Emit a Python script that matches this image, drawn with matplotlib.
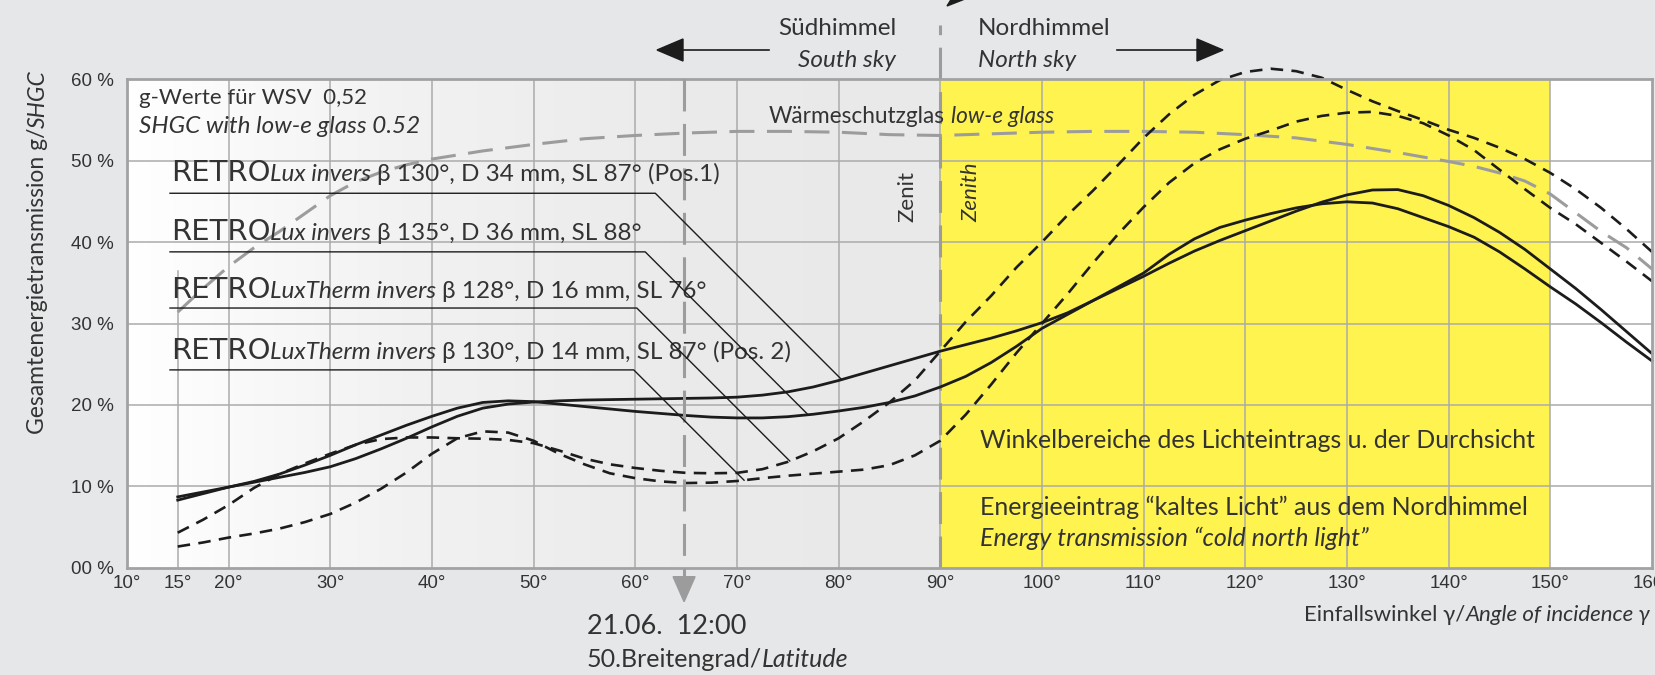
import numpy as np
import matplotlib
matplotlib.use("Agg")
import matplotlib.pyplot as plt
from matplotlib.transforms import IdentityTransform
from matplotlib.lines import Line2D
from matplotlib.patches import Polygon
from matplotlib.colors import LinearSegmentedColormap

plt.rcParams["lines.scale_dashes"] = False

# ---------------------------------------------------------------- data
angle = [15, 17.5, 20, 22.5, 25, 27.5, 30, 32.5, 35, 37.5, 40, 42.5, 45, 47.5,
         50, 52.5, 55, 57.5, 60, 62.5, 65, 67.5, 70, 72.5, 75, 77.5, 80, 82.5,
         85, 87.5, 90, 92.5, 95, 97.5, 100, 102.5, 105, 107.5, 110, 112.5, 115,
         117.5, 120, 122.5, 125, 127.5, 130, 132.5, 135, 137.5, 140, 142.5, 145,
         147.5, 150, 152.5, 155, 157.5, 160]

# RETROLux invers 130°, D 34 mm (Pos.1)
lux130 = [8.3, 9.1, 9.9, 10.5, 11.1, 11.7, 12.4, 13.4, 14.6, 15.9, 17.3, 18.6,
          19.6, 20.1, 20.35, 20.5, 20.6, 20.65, 20.7, 20.75, 20.8, 20.85, 20.95,
          21.2, 21.6, 22.2, 23.0, 23.9, 24.8, 25.7, 26.6, 27.4, 28.2, 29.1, 30.1,
          31.3, 32.8, 34.3, 35.8, 37.4, 38.9, 40.2, 41.4, 42.6, 43.8, 44.9, 45.8,
          46.4, 46.45, 45.7, 44.5, 43.0, 41.2, 39.1, 36.7, 34.3, 31.7, 29.0, 26.3]

# RETROLux invers 135°, D 36 mm
lux135 = [8.7, 9.3, 9.9, 10.6, 11.5, 12.6, 13.8, 15.1, 16.3, 17.5, 18.6, 19.6,
          20.3, 20.5, 20.4, 20.1, 19.8, 19.5, 19.2, 18.95, 18.7, 18.5, 18.4, 18.4,
          18.55, 18.85, 19.25, 19.7, 20.3, 21.1, 22.2, 23.5, 25.2, 27.2, 29.4,
          31.1, 32.8, 34.5, 36.2, 38.5, 40.4, 41.8, 42.7, 43.5, 44.2, 44.7, 44.95,
          44.8, 44.1, 43.0, 41.9, 40.6, 38.8, 36.7, 34.5, 32.4, 30.1, 27.7, 25.4]

# RETROLuxTherm invers 128°, D 16 mm
therm128 = [4.3, 5.9, 7.7, 9.8, 11.5, 12.8, 14.0, 15.1, 15.8, 16.0, 16.0, 15.9,
            15.85, 15.7, 15.3, 14.4, 13.4, 12.7, 12.25, 11.9, 11.65, 11.6, 11.65,
            12.1, 13.0, 14.3, 15.9, 18.0, 20.3, 23.0, 26.6, 30.2, 33.4, 36.9, 40.0,
            43.3, 46.3, 49.5, 52.8, 55.7, 58.1, 59.9, 60.9, 61.3, 61.0, 60.2, 58.7,
            57.3, 56.1, 55.0, 53.8, 52.8, 51.6, 50.2, 48.5, 46.5, 44.2, 41.6, 38.8]

# RETROLuxTherm invers 130°, D 14 mm (Pos. 2)
therm130 = [2.6, 3.1, 3.7, 4.2, 4.8, 5.6, 6.6, 8.0, 9.7, 11.7, 14.0, 15.9, 16.75,
            16.6, 15.6, 14.0, 12.7, 11.6, 11.0, 10.6, 10.4, 10.45, 10.65, 11.0,
            11.3, 11.55, 11.8, 12.05, 12.6, 13.8, 15.6, 18.8, 22.5, 26.4, 30.0,
            33.6, 37.4, 41.0, 44.3, 47.3, 49.7, 51.4, 52.7, 53.7, 54.8, 55.5, 55.9,
            56.0, 55.5, 54.6, 53.1, 51.3, 48.9, 46.5, 44.2, 42.2, 39.9, 37.6, 35.2]

# low-e glass reference
glass_angle = [15, 17.5, 20, 22.5, 25, 27.5, 30, 32.5, 35, 37.5, 40, 45, 50, 55,
               60, 65, 70, 75, 80, 85, 90, 95, 100, 105, 110, 115, 120, 125, 130,
               135, 140, 142.5, 145, 147.5, 150, 152.5, 155, 157.5, 160]
glass = [31.4, 34.3, 37.0, 39.3, 41.3, 43.5, 45.7, 47.4, 48.6, 49.5, 50.2, 51.2,
         52.0, 52.7, 53.1, 53.4, 53.6, 53.6, 53.5, 53.2, 53.1, 53.3, 53.5, 53.6,
         53.6, 53.5, 53.2, 52.8, 52.0, 51.0, 49.9, 49.3, 48.5, 47.5, 45.9, 43.6,
         41.3, 39.3, 36.7]

x_ticks = [10, 15, 20, 30, 40, 50, 60, 70, 80, 90, 100, 110, 120, 130, 140, 150, 160]
y_ticks = [0, 10, 20, 30, 40, 50, 60]
y_ticklabels = ["00 %", "10 %", "20 %", "30 %", "40 %", "50 %", "60 %"]

labels = [
    ("Lux invers ", "β 130°, D 34 mm, SL 87° (Pos.1)"),
    ("Lux invers ", "β 135°, D 36 mm, SL 88°"),
    ("LuxTherm invers ", "β 128°, D 16 mm, SL 76°"),
    ("LuxTherm invers ", "β 130°, D 14 mm, SL 87° (Pos. 2)"),
]
label_curves = [lux130, lux135, therm128, therm130]
label_hit_angle = [80.3, 77.0, 75.2, 70.7]
label_rule_pct = [46.0, 38.8, 31.9, 24.3]

SUN_ANGLE = 64.8
ZENITH = 90
NORTH_END = 150

# ---------------------------------------------------------------- style
W, H = 1656, 675
FIG_BG = "#e6e7e8"
YELLOW = "#fff34f"
GRID = "#ababab"
TXT = "#333333"
INK = "#1c1c1c"
GREYLINE = "#9c9c9c"
SANS = ["Lato", "DejaVu Sans"]
TICKFONT = ["Liberation Sans", "DejaVu Sans"]
WIDE = ["DejaVu Sans"]

fig = plt.figure(figsize=(W / 100, H / 100), dpi=100, facecolor=FIG_BG)
L, R, T, B = 126.9, 1652.0, 79.3, 567.7
ax = fig.add_axes([L / W, 1 - B / H, (R - L) / W, (B - T) / H])
ax.set_facecolor("white")

# soft grey shading of the south sky half
sky = LinearSegmentedColormap.from_list("sky", ["#ffffff", "#f2f2f2", "#ebebeb", "#e9e9ea"])
ax.imshow(np.linspace(0, 1, 256)[None, :], extent=(10, ZENITH, 0, 60), aspect="auto",
          cmap=sky, zorder=0, interpolation="bicubic")
ax.axvspan(ZENITH, NORTH_END, color=YELLOW, lw=0, zorder=0.2)
ax.set_xlim(10, 160)
ax.set_ylim(0, 60)

for v in x_ticks[2:-1]:
    ax.axvline(v, color=GRID, lw=1.1, zorder=1)
for v in y_ticks[1:-1]:
    ax.axhline(v, color=GRID, lw=1.1, zorder=1)
ax.plot([15, 15], [0, 36.4], color=GRID, lw=1.1, zorder=1)

for s in ax.spines.values():
    s.set_color("#a2a2a2")
    s.set_linewidth(2.0)
    s.set_zorder(6)

ax.set_xticks(x_ticks)
ax.set_xticklabels([f"{v}°" for v in x_ticks])
ax.set_yticks(y_ticks)
ax.set_yticklabels(y_ticklabels)
ax.tick_params(axis="both", length=0, labelsize=13.5, labelcolor=TXT)
ax.tick_params(axis="x", pad=5)
ax.tick_params(axis="y", pad=9.5)
for lab in ax.get_xticklabels() + ax.get_yticklabels():
    lab.set_fontfamily(TICKFONT)

# curves
ax.plot(glass_angle, glass, color=GREYLINE, lw=2.2, dashes=(18, 9), zorder=2,
        dash_capstyle="butt", clip_on=False)
for yv in (lux130, lux135):
    ax.plot(angle, yv, color=INK, lw=2.0, zorder=4, clip_on=False)
for yv in (therm128, therm130):
    ax.plot(angle, yv, color=INK, lw=1.9, dashes=(9, 6), zorder=4,
            dash_capstyle="butt", clip_on=False)

# zenith and sun position markers
ax.plot([ZENITH, ZENITH], [0, 66.7], color=GREYLINE, lw=2.2, dashes=(23, 9),
        zorder=3, clip_on=False)
fig.canvas.draw()
renderer = fig.canvas.get_renderer()
sx, sy_bot = ax.transData.transform((SUN_ANGLE, 0))
_, sy_top = ax.transData.transform((SUN_ANGLE, 60))
fig.add_artist(Line2D([sx, sx], [sy_top, sy_bot - 9], color=GREYLINE, lw=2.2,
                      dashes=(23, 9), transform=IdentityTransform()))
fig.add_artist(Polygon([(sx - 11, sy_bot - 9), (sx + 11, sy_bot - 9), (sx, sy_bot - 34)],
                       closed=True, color=GREYLINE, transform=IdentityTransform()))


# ---------------------------------------------------------------- text helpers
def P(x, y):
    return x, H - y


def width_of(s, size, style, fam):
    t = fig.text(0, 0, s, fontsize=size, style=style, family=fam,
                 transform=IdentityTransform())
    w = t.get_window_extent(renderer).width
    t.remove()
    return w


def runs(parts, x, y, rot=0, color=TXT, align="left"):
    """Draw consecutive text pieces with mixed styles along one baseline."""
    pieces = []
    total = 0.0
    for s, style, fam, size in parts:
        sp = width_of("x x", size, style, fam) - width_of("xx", size, style, fam)
        lead = len(s) - len(s.lstrip(" "))
        trail = len(s) - len(s.rstrip(" "))
        core = s.strip(" ")
        w = width_of(core, size, style, fam)
        pieces.append((core, style, fam, size, lead * sp, w, trail * sp))
        total += lead * sp + w + trail * sp
    pos = -total if align == "right" else 0.0
    x0, y0 = P(x, y)
    for core, style, fam, size, lead, w, trail in pieces:
        pos += lead
        px, py = (x0 + pos, y0) if rot == 0 else (x0, y0 + pos)
        fig.text(px, py, core, transform=IdentityTransform(), fontsize=size, style=style,
                 family=fam, color=color, ha="left", va="baseline",
                 rotation=rot, rotation_mode="anchor")
        pos += w + trail


def put(s, x, y, size, style="normal", ha="left", rot=0, fam=SANS, color=TXT):
    fig.text(*P(x, y), s, transform=IdentityTransform(), fontsize=size, style=style,
             family=fam, color=color, ha=ha, va="baseline", rotation=rot,
             rotation_mode="anchor")


# y axis title
runs([("Gesamtenergietransmission g/", "normal", SANS, 16.5),
      ("SHGC", "italic", SANS, 16.5)], 44.5, 434, rot=90)

# sky direction heading
put("Südhimmel", 896, 35, 17.5, ha="right")
put("South sky", 896, 66.7, 17.5, style="italic", ha="right")
put("Nordhimmel", 978, 35, 17.5)
put("North sky", 978, 66.7, 17.5, style="italic")
for x_tail, x_base, x_tip in ((769, 683, 657), (1117, 1197, 1223)):
    fig.add_artist(Line2D([x_tail, x_base], [H - 50, H - 50], color=INK, lw=1.2,
                          transform=IdentityTransform()))
    fig.add_artist(Polygon([P(x_base, 39), P(x_base, 61), P(x_tip, 50)], closed=True,
                           color=INK, transform=IdentityTransform()))
fig.add_artist(Polygon([P(947, 6), P(970, -3), P(957, -10)], closed=True, color=INK,
                       transform=IdentityTransform()))

# plot area notes
put("g-Werte für WSV  0,52", 139, 104, 16)
put("SHGC with low-e glass 0.52", 139, 133, 17.5, style="italic")
runs([("Wärmeschutzglas ", "normal", SANS, 16.3), ("low-e glass", "italic", SANS, 16.3)],
     769, 122.7)
put("Zenit", 913.6, 222, 16, rot=90)
put("Zenith", 977.5, 222, 16, style="italic", rot=90)
put("Winkelbereiche des Lichteintrags u. der Durchsicht", 980, 448.3, 17.8)
put("Energieeintrag “kaltes Licht” aus dem Nordhimmel", 980, 515, 18)
put("Energy transmission “cold north light”", 980, 546, 18, style="italic")

# below the axis
put("21.06.  12:00", 587, 634, 19.5)
runs([("50.Breitengrad/", "normal", SANS, 18), ("Latitude", "italic", SANS, 18)], 587, 666.7)
runs([("Einfallswinkel γ/", "normal", SANS, 16), ("Angle of incidence γ", "italic", SANS, 16)],
     1650, 621, align="right")

# curve labels with leader lines
label_baselines = [181, 240, 297.7, 359.3]
for (mid, tail), curve, hit, rule, base in zip(labels, label_curves, label_hit_angle,
                                                label_rule_pct, label_baselines):
    runs([("RETRO", "normal", WIDE, 21), (mid, "italic", SANS, 17.5),
          (tail, "normal", SANS, 17.5)], 171, base)
    ex, ey = ax.transData.transform((hit, np.interp(hit, angle, curve)))
    _, ry = ax.transData.transform((10, rule))
    kx = ex - (ry - ey)
    fig.add_artist(Line2D([170, kx, ex], [ry, ry, ey], color=INK, lw=1.0,
                          transform=IdentityTransform(), zorder=5))

fig.savefig("out.png", dpi=100, facecolor=FIG_BG)
